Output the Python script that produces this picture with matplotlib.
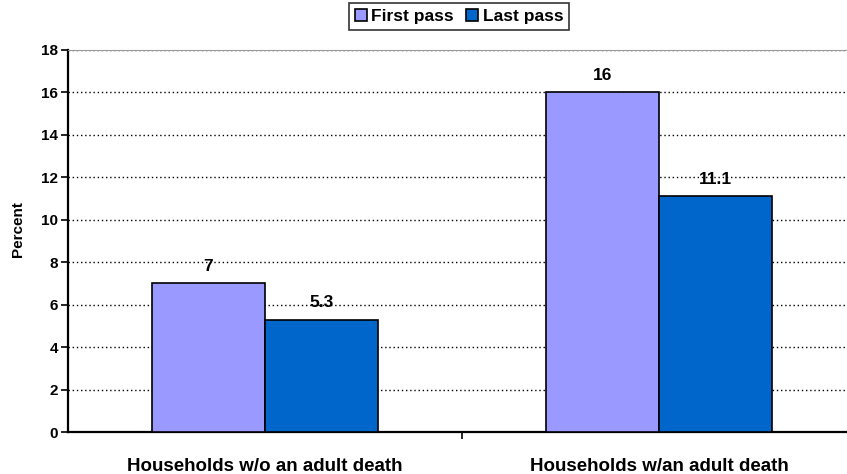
import matplotlib.pyplot as plt
import numpy as np

plt.rcParams['font.family'] = ['Liberation Sans', 'DejaVu Sans']
plt.rcParams['font.weight'] = 'bold'

categories = ['Households w/o an adult death', 'Households w/an adult death']
first_pass = [7, 16]
last_pass = [5.3, 11.1]
series_names = ['First pass', 'Last pass']
colors = ['#9999FF', '#0066CC']

fig = plt.figure(figsize=(8.47, 4.74), dpi=100)
# axes deliberately runs past the right edge of the figure
ax = fig.add_axes([68/847, 42/474, 788/847, 382/474])

x = np.arange(len(categories))
w = 0.287
b1 = ax.bar(x - w/2, first_pass, w, color=colors[0], edgecolor='black', linewidth=1.2,
            label=series_names[0], zorder=3)
b2 = ax.bar(x + w/2, last_pass, w, color=colors[1], edgecolor='black', linewidth=1.2,
            label=series_names[1], zorder=3)

for bars, vals in ((b1, first_pass), (b2, last_pass)):
    for r, v in zip(bars, vals):
        ax.text(r.get_x() + r.get_width()/2, v + 0.45, f'{v:g}', ha='center', va='bottom',
                fontsize=12.5, fontweight='bold', zorder=4)

ax.set_xlim(-0.5, 1.5)
ax.set_ylim(0, 18)
ax.set_yticks(np.arange(0, 19, 2))
ax.yaxis.grid(True, linestyle=(0, (1, 2)), color='black', linewidth=1)
ax.set_axisbelow(True)

ax.set_xticks([0.5])
ax.set_xticklabels([''])
ax.set_xticks(x, minor=True)
ax.set_xticklabels(categories, minor=True, fontsize=13.5, fontweight='bold')
ax.tick_params(axis='x', which='minor', length=0, pad=19)
ax.tick_params(axis='x', which='major', length=5, width=1.2, direction='out')
ax.tick_params(axis='y', length=5, width=1.2, direction='out', labelsize=11, pad=2)

ax.set_ylabel('Percent', fontsize=11, fontweight='bold')
ax.yaxis.set_label_coords(-43/788, 0.53)

for s in ['left', 'bottom']:
    ax.spines[s].set_linewidth(1.6)
ax.spines['right'].set_visible(False)
ax.spines['top'].set_color('#999999')

leg = fig.legend(loc='upper center', bbox_to_anchor=(459/847, 1 - 3/474), ncol=2,
                 fontsize=12.5, frameon=True, fancybox=False, edgecolor='black',
                 handlelength=0.7, handleheight=0.7, handletextpad=0.25,
                 columnspacing=0.7, borderpad=0.35, borderaxespad=0)
leg.get_frame().set_linewidth(1.2)

fig.savefig('out.png', dpi=100)
